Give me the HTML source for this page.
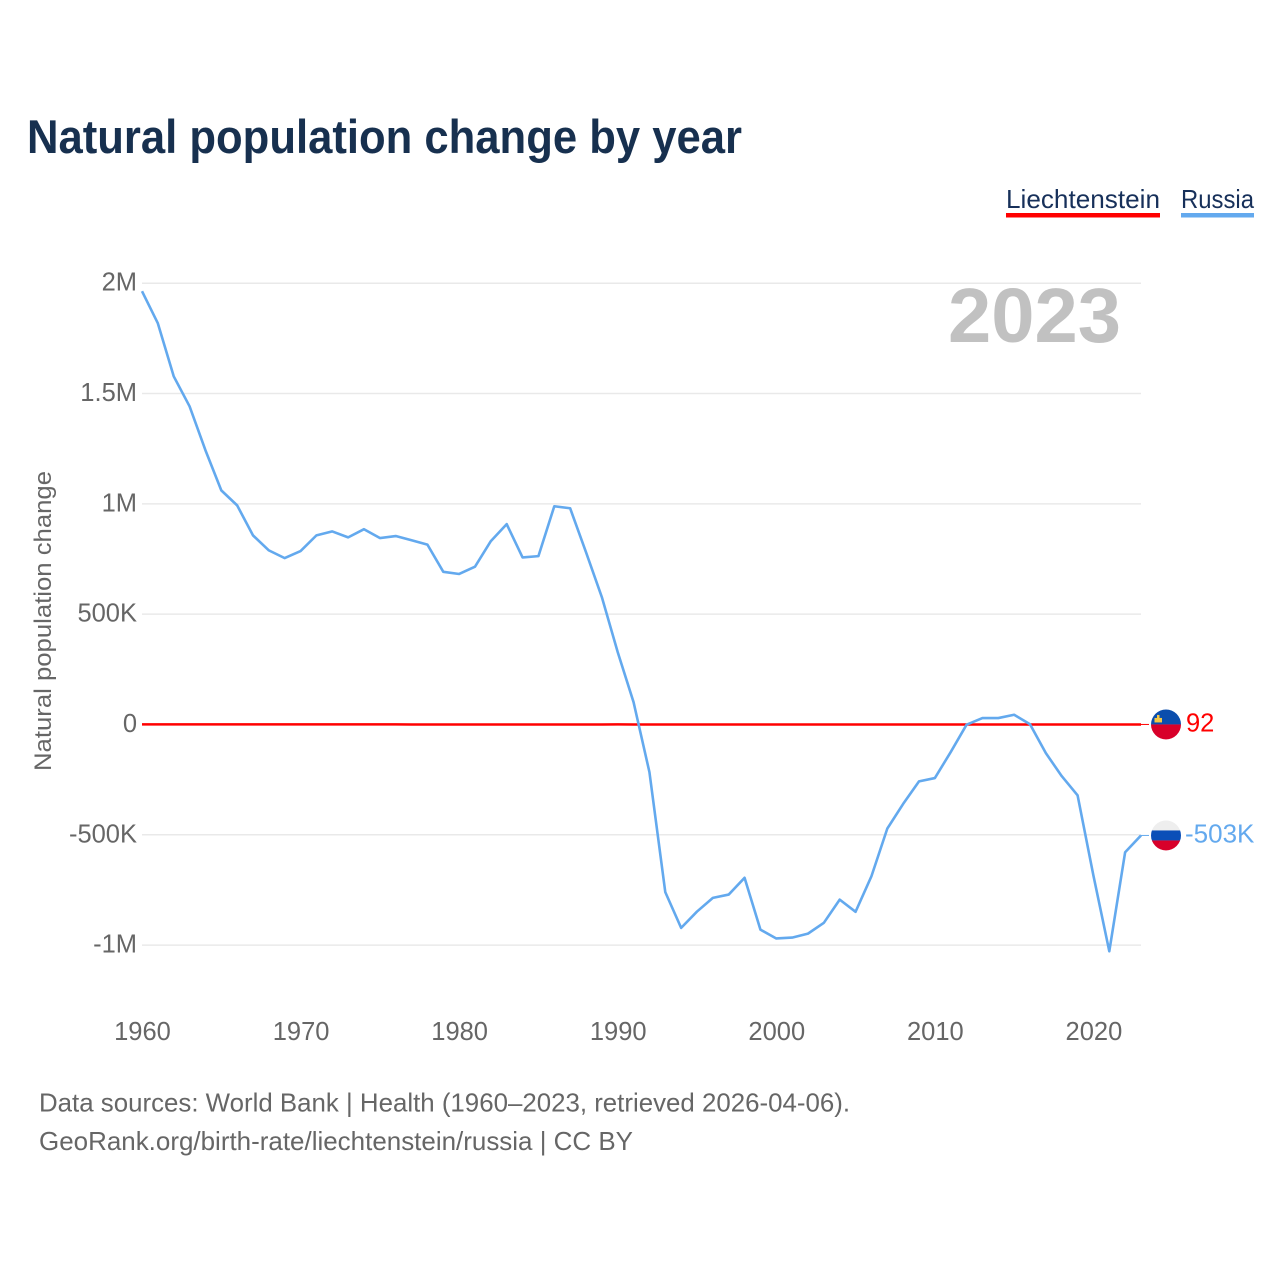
<!DOCTYPE html>
<html lang="en">
<head>
<meta charset="utf-8">
<title>Natural population change by year</title>
<style>
html,body{margin:0;padding:0;background:#fff;}
svg{display:block;font-family:"Liberation Sans",Arial,sans-serif;}
</style>
</head>
<body>
<svg id="chart" xmlns="http://www.w3.org/2000/svg" width="1280" height="1280" viewBox="0 0 1280 1280">
  <defs>
    <clipPath id="clip-li"><circle id="clip-li-circle" cx="1166" cy="724" r="15"/></clipPath>
    <clipPath id="clip-ru"><circle id="clip-ru-circle" cx="1166" cy="835" r="15"/></clipPath>
  </defs>
  <rect x="0" y="0" width="1280" height="1280" fill="#fff"/>
  <text x="27" y="153" font-size="47" font-weight="700" fill="#17304f" textLength="715" lengthAdjust="spacingAndGlyphs">Natural population change by year</text>
  <text x="1006" y="208" font-size="26" fill="#17305a" textLength="154" lengthAdjust="spacingAndGlyphs">Liechtenstein</text>
  <rect x="1006" y="213" width="154" height="4.5" fill="#ff0000"/>
  <text x="1181" y="208" font-size="26" fill="#17305a" textLength="73" lengthAdjust="spacingAndGlyphs">Russia</text>
  <rect x="1181" y="213" width="73" height="4.5" fill="#63a9ee"/>
  <text x="948" y="342" font-size="77" font-weight="700" fill="#c1c1c1" textLength="173" lengthAdjust="spacingAndGlyphs">2023</text>
  <text transform="translate(51,771) rotate(-90)" x="0" y="0" font-size="24.5" fill="#666" textLength="300" lengthAdjust="spacingAndGlyphs">Natural population change</text>
  <g id="grid"></g>
  <g id="yticks"></g>
  <g id="xticks"></g>
  <g id="series"></g>
  <g id="flags"></g>
  <text x="39" y="1111.5" font-size="26" fill="#666" textLength="811" lengthAdjust="spacingAndGlyphs">Data sources: World Bank | Health (1960–2023, retrieved 2026-04-06).</text>
  <text x="39" y="1150" font-size="26" fill="#666" textLength="594" lengthAdjust="spacingAndGlyphs">GeoRank.org/birth-rate/liechtenstein/russia | CC BY</text>
</svg>
<script>
const years = [1960,1961,1962,1963,1964,1965,1966,1967,1968,1969,1970,1971,1972,1973,1974,1975,1976,1977,1978,1979,1980,1981,1982,1983,1984,1985,1986,1987,1988,1989,1990,1991,1992,1993,1994,1995,1996,1997,1998,1999,2000,2001,2002,2003,2004,2005,2006,2007,2008,2009,2010,2011,2012,2013,2014,2015,2016,2017,2018,2019,2020,2021,2022,2023];
const russia = [1964000,1818000,1578000,1442000,1243000,1061000,993000,857000,789000,754000,786000,857000,875000,848000,885000,845000,854000,835000,815000,692000,682000,715000,831000,908000,757000,763000,989000,980000,781000,577000,328000,101000,-216000,-760000,-922000,-848000,-786000,-771000,-695000,-930000,-970000,-966000,-948000,-899000,-794000,-849000,-688000,-472000,-360000,-258000,-243000,-125000,-1000,29000,29000,44000,1000,-130000,-234000,-321000,-685000,-1028000,-579000,-503000];
const liechtenstein = [240,250,260,250,240,230,240,230,220,210,200,210,190,180,170,160,150,140,130,120,130,140,130,120,130,120,110,120,130,140,150,140,130,140,130,120,130,120,110,120,130,120,110,100,110,100,90,100,90,80,90,100,90,80,90,80,70,80,60,50,40,30,60,92];
const yTickValues = [2000000,1500000,1000000,500000,0,-500000,-1000000];
const yTickLabels = ["2M","1.5M","1M","500K","0","-500K","-1M"];
const xTickValues = [1960,1970,1980,1990,2000,2010,2020];
const xTickLabels = ["1960","1970","1980","1990","2000","2010","2020"];
const endLabelLi = "92";
const endLabelRu = "-503K";

const NS = "http://www.w3.org/2000/svg";
const X0 = 142, X1 = 1141, Y_2M = 283.2, Y_NEG1M = 945.1;
function xScale(year){ return X0 + (year - years[0]) * (X1 - X0) / (years[years.length - 1] - years[0]); }
function yScale(v){ return Y_2M + (2000000 - v) * (Y_NEG1M - Y_2M) / 3000000; }
function make(tag, parentId){
  const el = document.createElementNS(NS, tag);
  document.getElementById(parentId).appendChild(el);
  return el;
}
function linePath(values){
  return values.map(function(v, i){ return (i ? "L" : "M") + xScale(years[i]).toFixed(2) + " " + yScale(v).toFixed(2); }).join(" ");
}

yTickValues.forEach(function(v, i){
  const g = make("line", "grid");
  
  
  g.setAttribute("x1", X0);
  g.setAttribute("x2", X1);
  g.setAttribute("y1", yScale(v));
  g.setAttribute("y2", yScale(v));
  g.setAttribute("stroke", "#e9e9e9");
  g.setAttribute("stroke-width", "1.5");
  const t = make("text", "yticks");
  
  
  t.setAttribute("x", 137);
  t.setAttribute("y", yScale(v) + 7.5);
  t.setAttribute("text-anchor", "end");
  t.setAttribute("font-size", "25.5");
  t.setAttribute("fill", "#666");
  t.textContent = yTickLabels[i];
});

xTickValues.forEach(function(v, i){
  const t = make("text", "xticks");
  
  
  t.setAttribute("x", xScale(v) + 0.5);
  t.setAttribute("y", 1040);
  t.setAttribute("text-anchor", "middle");
  t.setAttribute("font-size", "25.5");
  t.setAttribute("fill", "#666");
  t.textContent = xTickLabels[i];
});

const lineLi = make("path", "series");


lineLi.setAttribute("d", linePath(liechtenstein));
lineLi.setAttribute("fill", "none");
lineLi.setAttribute("stroke", "#ff0000");
lineLi.setAttribute("stroke-width", "2.5");

const lineRu = make("path", "series");


lineRu.setAttribute("d", linePath(russia));
lineRu.setAttribute("fill", "none");
lineRu.setAttribute("stroke", "#63a9ee");
lineRu.setAttribute("stroke-width", "2.6");
lineRu.setAttribute("stroke-linejoin", "round");

const yLi = yScale(liechtenstein[liechtenstein.length - 1]);
const yRu = yScale(russia[russia.length - 1]);
document.getElementById("clip-li-circle").setAttribute("cy", yLi);
document.getElementById("clip-ru-circle").setAttribute("cy", yRu);

const connLi = make("line", "flags");


connLi.setAttribute("x1", X1);
connLi.setAttribute("x2", 1149);
connLi.setAttribute("y1", yLi);
connLi.setAttribute("y2", yLi);
connLi.setAttribute("stroke", "#ff0000");
connLi.setAttribute("stroke-width", "1");

const connRu = make("line", "flags");


connRu.setAttribute("x1", X1);
connRu.setAttribute("x2", 1149);
connRu.setAttribute("y1", yRu);
connRu.setAttribute("y2", yRu);
connRu.setAttribute("stroke", "#63a9ee");
connRu.setAttribute("stroke-width", "1");

const flagLi = make("g", "flags");


flagLi.setAttribute("clip-path", "url(#clip-li)");
flagLi.innerHTML =
  '<rect x="1151" y="' + (yLi - 15) + '" width="30" height="15" fill="#0b4ead"/>' +
  '<rect x="1151" y="' + yLi + '" width="30" height="15" fill="#d8002a"/>' +
  '<rect x="1154.5" y="' + (yLi - 6.5) + '" width="7.5" height="4.5" fill="#f6c945"/>' +
  '<rect x="1157" y="' + (yLi - 9.5) + '" width="2.5" height="3.5" fill="#f6c945"/>';

const flagRu = make("g", "flags");


flagRu.setAttribute("clip-path", "url(#clip-ru)");
flagRu.innerHTML =
  '<rect x="1151" y="' + (yRu - 15) + '" width="30" height="10" fill="#eeeeee"/>' +
  '<rect x="1151" y="' + (yRu - 5) + '" width="30" height="10" fill="#0a4fb8"/>' +
  '<rect x="1151" y="' + (yRu + 5) + '" width="30" height="10" fill="#d8002a"/>';

const labelLi = make("text", "flags");


labelLi.setAttribute("x", 1186);
labelLi.setAttribute("y", yLi + 7);
labelLi.setAttribute("font-size", "25.5");
labelLi.setAttribute("fill", "#ff0000");
labelLi.textContent = endLabelLi;

const labelRu = make("text", "flags");


labelRu.setAttribute("x", 1185);
labelRu.setAttribute("y", yRu + 7);
labelRu.setAttribute("font-size", "26");
labelRu.setAttribute("fill", "#63a9ee");
labelRu.textContent = endLabelRu;
</script>
</body>
</html>
